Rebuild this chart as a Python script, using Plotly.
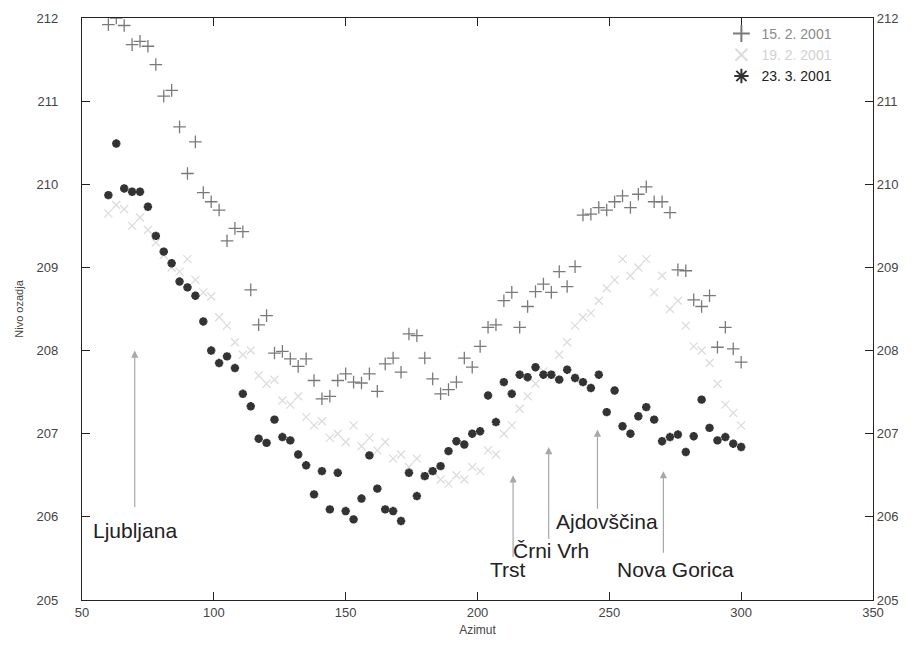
import plotly.graph_objects as go

azimut = list(range(60, 301, 3))

nivo_15_2 = [211.92, 212.00, 211.91, 211.68, 211.72, 211.66, 211.44, 211.06, 211.13, 210.69,
             210.13, 210.51, 209.90, 209.79, 209.69, 209.32, 209.47, 209.43, 208.73, 208.31,
             208.42, 207.97, 207.99, 207.90, 207.81, 207.90, 207.64, 207.42, 207.45, 207.64,
             207.72, 207.62, 207.61, 207.72, 207.51, 207.84, 207.91, 207.74, 208.20, 208.18,
             207.91, 207.66, 207.48, 207.53, 207.62, 207.91, 207.80, 208.05, 208.28, 208.31,
             208.60, 208.70, 208.28, 208.53, 208.71, 208.80, 208.70, 208.95, 208.77, 209.01,
             209.63, 209.64, 209.72, 209.69, 209.79, 209.86, 209.72, 209.88, 209.97, 209.79,
             209.79, 209.66, 208.97, 208.96, 208.61, 208.53, 208.66, 208.04, 208.28, 208.02,
             207.86]

nivo_19_2 = [209.65, 209.75, 209.70, 209.50, 209.60, 209.45, 209.30, 209.15, 209.00, 208.95,
             209.10, 208.85, 208.70, 208.65, 208.40, 208.30, 208.10, 207.95, 208.00, 207.70,
             207.60, 207.65, 207.40, 207.35, 207.45, 207.20, 207.10, 207.15, 206.95, 207.00,
             206.90, 207.10, 206.85, 206.95, 206.80, 206.90, 206.70, 206.75, 206.60, 206.70,
             206.50, 206.55, 206.45, 206.40, 206.50, 206.45, 206.60, 206.55, 206.80, 206.75,
             207.00, 207.10, 207.30, 207.45, 207.60, 207.75, 207.70, 207.95, 208.10, 208.30,
             208.40, 208.45, 208.60, 208.75, 208.85, 209.10, 208.90, 209.00, 209.10, 208.70,
             208.90, 208.50, 208.60, 208.30, 208.05, 208.00, 207.85, 207.60, 207.35, 207.25,
             207.10]

nivo_23_3 = [209.87, 210.49, 209.95, 209.91, 209.91, 209.73, 209.38, 209.19, 209.05, 208.83,
             208.76, 208.66, 208.35, 208.00, 207.85, 207.93, 207.79, 207.48, 207.33, 206.94,
             206.89, 207.17, 206.96, 206.92, 206.75, 206.62, 206.27, 206.55, 206.09, 206.53,
             206.07, 205.97, 206.22, 206.74, 206.34, 206.09, 206.07, 205.95, 206.53, 206.25,
             206.49, 206.55, 206.61, 206.79, 206.91, 206.87, 207.00, 207.03, 207.46, 207.14,
             207.62, 207.48, 207.71, 207.68, 207.80, 207.71, 207.71, 207.65, 207.77, 207.67,
             207.62, 207.55, 207.71, 207.26, 207.52, 207.09, 207.00, 207.21, 207.32, 207.17,
             206.91, 206.96, 206.99, 206.78, 206.97, 207.41, 207.07, 206.92, 206.96, 206.88,
             206.84]

kraji = ["Ljubljana", "Trst", "Črni Vrh", "Ajdovščina", "Nova Gorica"]
kraji_azimut = [70, 213.5, 227, 245.5, 270.5]
kraji_vrh = [208.0, 206.5, 206.84, 207.05, 206.55]
kraji_dno = [206.1, 205.5, 205.72, 206.08, 205.55]
kraji_tx = [70, 211.5, 228, 249, 275]
kraji_ty = [205.83, 205.37, 205.6, 205.94, 205.37]

FONT = "Liberation Sans, Arial, sans-serif"

fig = go.Figure()
fig.add_trace(go.Scatter(
    x=azimut, y=nivo_15_2, mode="markers", name="<span style='color:#8a8a8a'>15. 2. 2001</span>",
    marker=dict(symbol="cross-thin-open", size=9, color="#7a7a7a",
                line=dict(color="#7a7a7a", width=1.3))))
fig.add_trace(go.Scatter(
    x=azimut, y=nivo_19_2, mode="markers", name="<span style='color:#d2d2d2'>19. 2. 2001</span>",
    marker=dict(symbol="x-thin-open", size=8, color="#dcdcdc",
                line=dict(color="#dcdcdc", width=1.3))))
fig.add_trace(go.Scatter(
    x=azimut, y=nivo_23_3, mode="markers", name="<span style='color:#222'>23. 3. 2001</span>",
    marker=dict(symbol="asterisk-open", size=7, color="#333333",
                line=dict(color="#333333", width=2.6))))
# helper trace to show the mirrored right axis
fig.add_trace(go.Scatter(x=azimut, y=nivo_23_3, yaxis="y2", mode="markers",
                         marker=dict(opacity=0), showlegend=False, hoverinfo="skip"))

for name, xa, yt, yb, tx, ty in zip(kraji, kraji_azimut, kraji_vrh, kraji_dno, kraji_tx, kraji_ty):
    fig.add_annotation(x=xa, y=yt, ax=xa, ay=yb, axref="x", ayref="y", xref="x", yref="y",
                       showarrow=True, arrowhead=2, arrowsize=1.2, arrowwidth=1.2,
                       arrowcolor="#a8a8a8", text="")
    fig.add_annotation(x=tx, y=ty, xref="x", yref="y", text=name, showarrow=False,
                       font=dict(family=FONT, size=21, color="#222"))

axis_font = dict(family=FONT, size=13, color="#444")
fig.update_layout(
    width=919, height=649,
    margin=dict(l=74, r=54, t=10, b=57, autoexpand=False),
    paper_bgcolor="white", plot_bgcolor="white",
    showlegend=True,
    legend=dict(x=0.955, y=1.0, xanchor="right", yanchor="top", bgcolor="rgba(0,0,0,0)",
                font=dict(family=FONT, size=14), tracegroupgap=0, itemsizing="constant"),
    xaxis=dict(range=[50, 350], tickvals=[50, 100, 150, 200, 250, 300, 350], automargin=False,
               ticks="inside", ticklen=8, tickcolor="#222", showline=True, linecolor="#222",
               linewidth=1.3, mirror="ticks", showgrid=False, zeroline=False, tickfont=axis_font,
               title=dict(text="Azimut", font=dict(family=FONT, size=12, color="#444"), standoff=6)),
    yaxis=dict(range=[205, 212], tickvals=list(range(205, 213)), automargin=False,
               ticks="inside", ticklen=8, tickcolor="#222", showline=True, linecolor="#222",
               linewidth=1.3, showgrid=False, zeroline=False, tickfont=axis_font,
               ticklabelstandoff=20,
               title=dict(text="Nivo ozadja", font=dict(family=FONT, size=11, color="#444"),
                          standoff=10)),
    yaxis2=dict(range=[205, 212], tickvals=list(range(205, 213)), overlaying="y", side="right",
                automargin=False,
                ticks="inside", ticklen=8, tickcolor="#222", showline=True, linecolor="#222",
                linewidth=1.3, showgrid=False, zeroline=False, tickfont=axis_font),
)

fig.write_html("out.html")
